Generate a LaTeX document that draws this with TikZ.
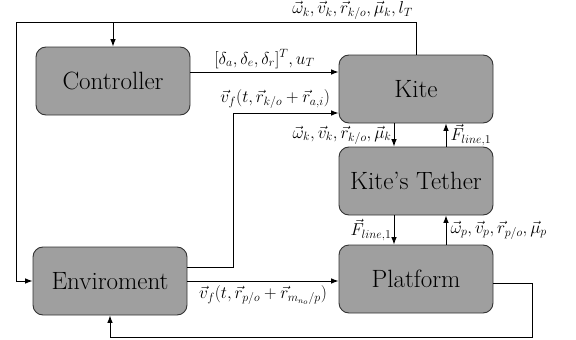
\documentclass[tikz,border=0pt]{standalone}
\usepackage{tikz}
\usetikzlibrary{arrows.meta,calc,positioning}

\begin{document}
\begin{tikzpicture}[x=1pt,y=-1pt,>=Latex,
    block/.style={draw=black!80,line width=0.9pt,fill=gray!75,rounded corners=10pt,
      minimum width=154pt,minimum height=68pt,font=\fontsize{25}{28}\selectfont},
    lbl/.style={font=\fontsize{17}{19}\selectfont,inner sep=1pt},
    wire/.style={line width=1pt,->}]
  \useasboundingbox (0,0) rectangle (576,340);

  \node[block] (ctrl) at (113,81) {Controller};
  \node[block] (env) at (110,281) {Enviroment};
  \node[block] (kite) at (416,89) {Kite};
  \node[block] (teth) at (416,181) {Kite's Tether};
  \node[block] (plat) at (416,279) {Platform};

  \coordinate (tl) at (16,22);
  \coordinate (bend) at (233,113);
  \coordinate (br) at (532,337);

  % feedback from the kite
  \draw[wire] (kite.north) |- (tl) |- (env.west);
  \draw[wire] (ctrl.north |- tl) -- (ctrl.north);
  \node[lbl,anchor=south east] at ([xshift=-2pt,yshift=1pt]kite.north |- tl)
    {$\vec{\omega}_k,\vec{v}_k,\vec{r}_{k/o},\vec{\mu}_k,l_T$};

  \draw[wire] ([yshift=9pt]ctrl.east) -- ([yshift=9pt]ctrl.east -| kite.west)
    node[lbl,midway,above=2pt] {$[\delta_a,\delta_e,\delta_r]^T,u_T$};

  \draw[wire] ([yshift=14pt]env.east) -| (bend) -- (bend -| kite.west)
    node[lbl,pos=0.4,above=3pt] {$\vec{v}_f(t,\vec{r}_{k/o}+\vec{r}_{a,i})$};

  \draw[wire] (env.east) -- (env.east -| plat.west)
    node[lbl,midway,below=3pt] {$\vec{v}_f(t,\vec{r}_{p/o}+\vec{r}_{m_{n_o}/p})$};

  \draw[wire] ([yshift=-4pt]plat.east) -| (br) -| (env.south);

  % kite and tether
  \draw[wire] ([xshift=-22pt]kite.south) -- ([xshift=-22pt]teth.north)
    node[lbl,midway,left=1pt] {$\vec{\omega}_k,\vec{v}_k,\vec{r}_{k/o},\vec{\mu}_k$};
  \draw[wire] ([xshift=30pt]teth.north) -- ([xshift=30pt]kite.south)
    node[lbl,midway,right=3pt] {$\vec{F}_{line,1}$};

  % tether and platform
  \draw[wire] ([xshift=-22pt]teth.south) -- ([xshift=-22pt]plat.north)
    node[lbl,midway,left=1pt] {$\vec{F}_{line,1}$};
  \draw[wire] ([xshift=30pt]plat.north) -- ([xshift=30pt]teth.south)
    node[lbl,midway,right=3pt] {$\vec{\omega}_p,\vec{v}_p,\vec{r}_{p/o},\vec{\mu}_p$};
\end{tikzpicture}
\end{document}
